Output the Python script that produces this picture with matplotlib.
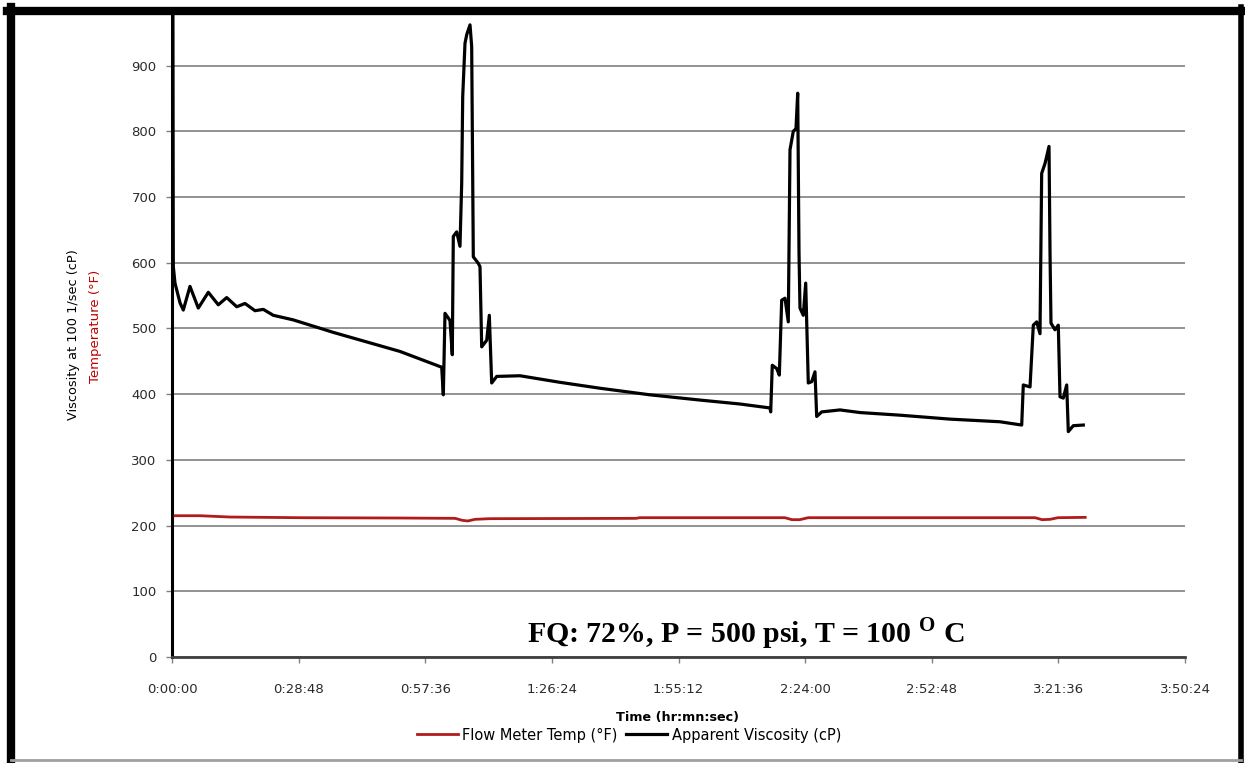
import matplotlib
matplotlib.use("Agg")
import matplotlib.pyplot as plt
from matplotlib.lines import Line2D

# elapsed time in minutes, viscosity in cP
visc_time = [0.0, 0.15, 0.3, 0.68, 1.82, 2.57, 4.09, 5.98, 8.26, 10.53, 12.44, 14.72,
             16.6, 18.88, 20.77, 23.04, 27.59, 36.69, 51.86, 61.34,
             61.71, 62.09, 62.84, 63.23, 63.75, 63.98, 64.75, 65.5, 65.89, 66.12,
             66.64, 67.03, 67.78, 68.16, 68.53, 69.67, 70.05, 70.44, 71.58, 72.17,
             72.71, 73.85, 79.15, 88.25, 97.35, 108.7, 120.1, 129.2, 136.0,
             136.17, 136.53, 137.53, 138.13, 138.67, 139.42, 140.17, 140.56, 141.31,
             141.92, 142.31, 142.61, 142.83, 143.58, 144.13, 144.72, 145.49, 146.24,
             146.63, 147.77, 151.93, 156.48, 165.58, 176.95, 188.3, 193.26,
             193.62, 195.15, 195.9, 196.67, 197.42, 197.8, 198.56, 199.47, 199.7,
             199.92, 200.83, 201.58, 201.97, 202.72, 203.49, 203.86, 204.99, 207.27]
visc_cp = [125, 990, 594, 569, 539, 528, 564, 531, 555, 536, 547, 533,
           538, 527, 529, 520, 513, 494, 465, 441,
           399, 523, 516, 512, 460, 640, 647, 625, 721, 853,
           934, 947, 962, 929, 609, 599, 594, 472, 482, 520,
           417, 427, 428, 418, 409, 399, 391, 385, 379,
           373, 444, 439, 429, 543, 546, 510, 772, 800,
           804, 858, 615, 531, 520, 569, 417, 419, 434,
           366, 373, 376, 372, 368, 362, 358, 353,
           414, 411, 505, 510, 492, 736, 751, 777, 615,
           508, 498, 505, 396, 394, 414, 343, 352, 353]

# flow meter temperature, deg F
temp_time = [0.0, 6.4, 13.2, 29.1, 51.9, 64.4, 66.0, 67.3, 68.9, 72.3, 105.5, 106.4,
             139.4, 141.0, 142.8, 144.7, 196.3, 197.9, 199.7, 201.5, 207.7]
temp_f = [215, 215, 213, 212, 211.5, 211, 208, 207, 209.5, 210.5, 211, 212,
          212, 209, 209, 212, 212, 209, 209.5, 212, 212.5]

yticks = list(range(0, 1000, 100))
xticks_min = [0, 28.8, 57.6, 86.4, 115.2, 144.0, 172.8, 201.6, 230.4]


def hms(minutes):
    s = int(round(minutes * 60))
    return f"{s // 3600}:{(s % 3600) // 60:02d}:{s % 60:02d}"


plt.rcParams['font.family'] = ['DejaVu Sans']
plt.rcParams['mathtext.fontset'] = 'custom'
plt.rcParams['mathtext.rm'] = 'Liberation Serif:bold'

fig = plt.figure(figsize=(12.45, 7.63), dpi=100)
ax = fig.add_axes([172 / 1245, 106 / 763, 1013 / 1245, 642 / 763])

ax.set_ylim(0, 977)
ax.set_xlim(0, 230.4)
ax.set_yticks(yticks)
ax.set_xticks(xticks_min)
ax.set_xticklabels([hms(m) for m in xticks_min])
ax.yaxis.grid(True, color='#7f7f7f', lw=1.2)
ax.set_axisbelow(True)

ax.tick_params(axis='both', direction='out', length=4, width=1, color='#808080',
               labelsize=9.5, labelcolor='#2a2a2a')
ax.tick_params(axis='y', pad=7)
ax.tick_params(axis='x', pad=15)

for side in ('top', 'right'):
    ax.spines[side].set_visible(False)
ax.spines['left'].set_color('black')
ax.spines['left'].set_linewidth(2.2)
ax.spines['bottom'].set_color('#404040')
ax.spines['bottom'].set_linewidth(2.0)

temp_line, = ax.plot(temp_time, temp_f, color='#b01c1c', lw=2.0, zorder=3,
                     label='Flow Meter Temp (°F)')
visc_line, = ax.plot(visc_time, visc_cp, color='black', lw=2.3, zorder=4,
                     solid_joinstyle='round', label='Apparent Viscosity (cP)')

# two-colour y label
fig.text(73 / 1245, 1 - 335 / 763, 'Viscosity at 100 1/sec (cP)', rotation=90,
         ha='center', va='center', fontsize=9.3, color='black')
fig.text(95 / 1245, 1 - 326 / 763, 'Temperature (°F)', rotation=90,
         ha='center', va='center', fontsize=9.5, color='#c00000')

fig.text(678 / 1245, 1 - 718 / 763, 'Time (hr:mn:sec)', ha='center', va='center',
         fontsize=9.2, fontweight='bold')

ax.text((746 - 172) / 1013, 0.037,
        r'FQ: 72%, P = 500 psi, T = 100 $^{\mathrm{O}}$ C',
        transform=ax.transAxes, ha='center', va='center',
        family='Liberation Serif', fontweight='bold', fontsize=21.5)

fig.legend(handles=[temp_line, visc_line], loc='center', ncol=2,
           bbox_to_anchor=(629 / 1245, 1 - 735 / 763), frameon=False,
           fontsize=10.5, handlelength=2.8, columnspacing=0.6, handletextpad=0.3)

# outer chart border
fig.add_artist(Line2D([11 / 1245, 11 / 1245], [0, 1 - 7 / 763], color='black', lw=6))
fig.add_artist(Line2D([7 / 1245, 1242 / 1245], [1 - 11 / 763, 1 - 11 / 763],
                      color='black', lw=6))
fig.add_artist(Line2D([1241 / 1245, 1241 / 1245], [0, 1 - 7 / 763], color='black', lw=4))
fig.add_artist(Line2D([11 / 1245, 1241 / 1245], [3 / 763, 3 / 763], color='#a0a0a0', lw=2))

fig.savefig('out.png', dpi=100)
